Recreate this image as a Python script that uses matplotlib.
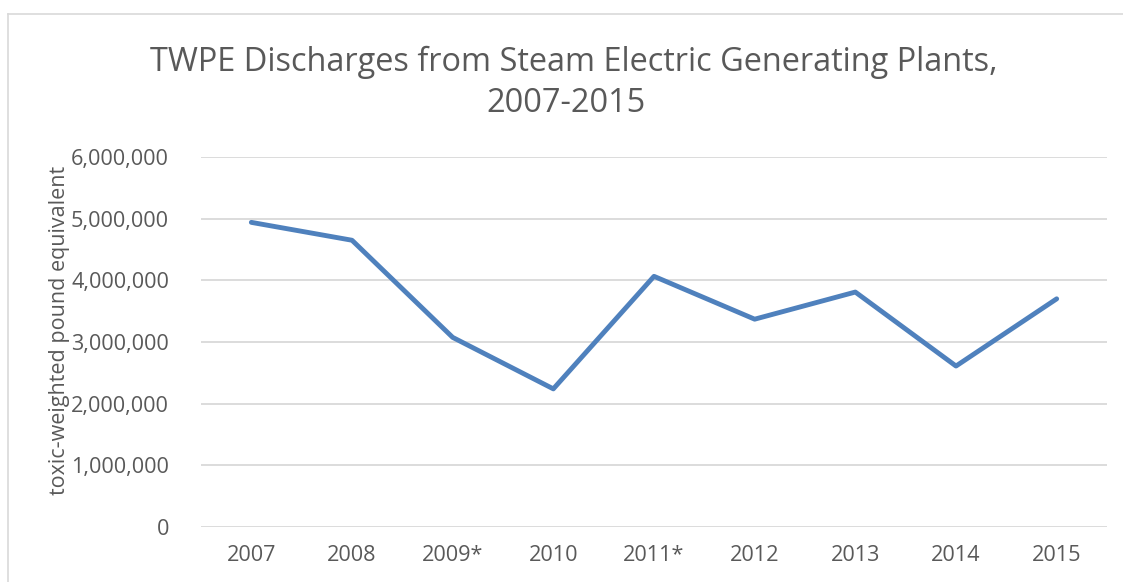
import matplotlib
matplotlib.use("Agg")
import matplotlib.pyplot as plt
from matplotlib.ticker import FuncFormatter
from matplotlib.lines import Line2D

years = ["2007", "2008", "2009*", "2010", "2011*", "2012", "2013", "2014", "2015"]
twpe = [4940000, 4650000, 3075000, 2240000, 4065000, 3370000, 3810000, 2610000, 3700000]
yticks = [0, 1000000, 2000000, 3000000, 4000000, 5000000, 6000000]

plt.rcParams['font.family'] = ['Open Sans', 'DejaVu Sans']
txt = '#595959'

fig = plt.figure(figsize=(11.23, 5.82), dpi=100)
ax = fig.add_axes([201/1123, 1-527/582, (1107-201)/1123, (527-157)/582])

x = list(range(len(years)))
ax.plot(x, twpe, color='#4f81bd', lw=3.5, solid_capstyle='round', solid_joinstyle='round', zorder=3)

ax.set_xlim(-0.5, len(years)-0.5)
ax.set_ylim(0, 6000000)
ax.set_yticks(yticks)
ax.yaxis.set_major_formatter(FuncFormatter(lambda v, p: f"{int(v):,}"))
ax.set_xticks(x)
ax.set_xticklabels(years)
ax.grid(axis='y', color='#d9d9d9', lw=1.3)
ax.set_axisbelow(True)
for s in ax.spines.values():
    s.set_visible(False)
ax.tick_params(axis='both', length=0, labelsize=15.6, colors=txt)
ax.tick_params(axis='y', pad=23)
ax.tick_params(axis='x', pad=13)

fig.text(60/1123, 1-330/582, "toxic-weighted pound equivalent", rotation=90,
         ha='center', va='center', fontsize=15.5, color=txt)

fig.text(574/1123, 1-62/582, "TWPE Discharges from Steam Electric Generating Plants,",
         ha='center', va='center', fontsize=23.4, color=txt)
fig.text(566/1123, 1-104/582, "2007-2015", ha='center', va='center', fontsize=23.4, color=txt)

# chart border (top and left visible)
fig.add_artist(Line2D([8/1123, 1.0], [1-13.5/582, 1-13.5/582], transform=fig.transFigure, color='#d9d9d9', lw=1.2))
fig.add_artist(Line2D([8/1123, 8/1123], [0, 1-13.5/582], transform=fig.transFigure, color='#d9d9d9', lw=1.2))

fig.savefig("out.png", dpi=100, facecolor='white')
